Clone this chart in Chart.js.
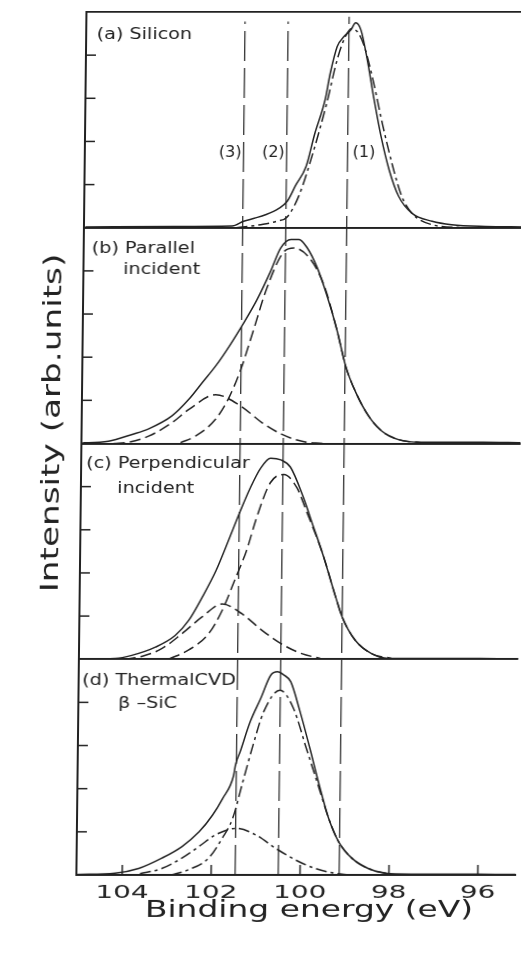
<!DOCTYPE html>
<html>
<head>
<meta charset="utf-8">
<script src="https://cdn.jsdelivr.net/npm/chart.js@4.4.1/dist/chart.umd.min.js"></script>
<style>
  html, body { margin: 0; padding: 0; background: #fff; overflow: hidden; }
  /* the scanned figure leans a little: verticals tilt, horizontals stay level */
  #wrap { position: relative; width: 521px; height: 958px; transform: skewX(-0.67deg); }
</style>
</head>
<body>
<div id="wrap"><canvas id="chartXps"></canvas></div>
<script>
const ink = '#222222';

// binding energy axis
const xTickValues = [96, 98, 100, 102, 104];
const yTickValues = [0, 1, 2, 3, 4, 5];

// reference lines (1) (2) (3), heights in stacked panel units (4 x 5)
const refLineEV = [99.12, 100.49, 101.46];
const refLineLabels = ['(1)', '(2)', '(3)'];
const refLineTop = [19.89, 19.78, 19.78];

const panelTitles = [
    ['(a) Silicon'],
    ['(b) Parallel', 'incident'],
    ['(c) Perpendicular', 'incident'],
    ['(d) ThermalCVD', 'β –SiC']
];

// (a) Silicon
const siMeasE = [105.0, 103.0, 101.7, 101.44, 101.2, 100.95, 100.65, 100.46, 100.28, 100.05, 99.87, 99.64, 99.53, 99.38, 99.23, 99.08, 98.97, 98.85, 98.7, 98.55, 98.37, 98.18, 97.96, 97.66, 97.2, 96.76, 96.0, 95.15];
const siMeasI = [0.02, 0.03, 0.04, 0.15, 0.22, 0.30, 0.45, 0.62, 0.98, 1.42, 2.15, 2.96, 3.58, 4.20, 4.43, 4.58, 4.75, 4.58, 3.89, 3.04, 2.11, 1.34, 0.73, 0.34, 0.15, 0.07, 0.03, 0.02];
const siFitE = [101.6, 101.0, 100.7, 100.46, 100.2, 99.9, 99.6, 99.38, 99.2, 99.06, 98.9, 98.77, 98.55, 98.33, 98.1, 97.89, 97.66, 97.2, 96.5];
const siFitI = [0.0, 0.08, 0.15, 0.25, 0.75, 1.73, 2.89, 3.89, 4.43, 4.62, 4.5, 4.2, 3.35, 2.35, 1.42, 0.73, 0.34, 0.07, 0.0];

// (b) Parallel incident
const parMeasE = [105.0, 104.87, 104.42, 103.89, 103.52, 103.0, 102.62, 102.32, 102.02, 101.72, 101.42, 101.12, 100.82, 100.6, 100.37, 100.19, 100.0, 99.77, 99.55, 99.32, 99.1, 98.87, 98.58, 98.28, 97.9, 97.38, 96.0, 95.15];
const parMeasI = [0.02, 0.02, 0.05, 0.21, 0.34, 0.64, 1.03, 1.42, 1.81, 2.27, 2.78, 3.33, 3.99, 4.53, 4.73, 4.73, 4.53, 4.07, 3.44, 2.66, 1.77, 1.18, 0.64, 0.29, 0.09, 0.03, 0.03, 0.02];
const parMainE = [102.8, 102.47, 102.02, 101.72, 101.46, 101.2, 100.9, 100.52, 100.3, 99.95, 99.62, 99.32, 99.1, 98.87, 98.58, 98.28, 97.9, 97.4];
const parMainI = [0.02, 0.17, 0.56, 1.07, 1.73, 2.59, 3.6, 4.45, 4.53, 4.3, 3.68, 2.66, 1.77, 1.18, 0.64, 0.29, 0.09, 0.02];
const parSideE = [104.3, 103.97, 103.52, 103.0, 102.62, 102.02, 101.46, 100.97, 100.52, 100.07, 99.6];
const parSideI = [0.0, 0.03, 0.17, 0.48, 0.79, 1.13, 0.87, 0.48, 0.21, 0.05, 0.0];

// (c) Perpendicular incident
const perMeasE = [105.0, 104.21, 103.84, 103.31, 102.87, 102.57, 102.27, 101.97, 101.67, 101.44, 101.22, 100.99, 100.77, 100.54, 100.32, 100.02, 99.8, 99.57, 99.27, 99.12, 98.82, 98.45, 98.07, 97.5, 96.0, 95.15];
const perMeasI = [0.01, 0.02, 0.09, 0.28, 0.55, 0.9, 1.44, 2.05, 2.82, 3.43, 3.97, 4.43, 4.66, 4.62, 4.45, 3.74, 3.1, 2.43, 1.44, 0.98, 0.44, 0.13, 0.02, 0.02, 0.02, 0.01];
const perMainE = [103.0, 102.57, 102.12, 101.82, 101.52, 101.29, 101.07, 100.77, 100.47, 100.17, 99.95, 99.57, 99.27, 99.12, 98.82, 98.45, 98.0];
const perMainI = [0.01, 0.21, 0.59, 1.13, 1.9, 2.51, 3.28, 4.09, 4.28, 3.97, 3.43, 2.43, 1.44, 0.98, 0.44, 0.13, 0.02];
const perSideE = [104.0, 103.6, 103.16, 102.72, 102.27, 101.82, 101.37, 100.92, 100.47, 100.02, 99.6];
const perSideI = [0.0, 0.07, 0.25, 0.59, 0.98, 1.28, 1.05, 0.67, 0.35, 0.13, 0.02];

// (d) Thermal CVD beta-SiC
const cvdMeasE = [105.0, 104.16, 103.63, 103.11, 102.66, 102.28, 101.98, 101.76, 101.52, 101.48, 101.38, 101.16, 100.93, 100.71, 100.56, 100.41, 100.26, 100.04, 99.81, 99.59, 99.37, 99.14, 98.84, 98.47, 98.09, 97.5, 96.0, 95.15];
const cvdMeasI = [0.01, 0.04, 0.15, 0.39, 0.66, 1.0, 1.39, 1.77, 2.3, 2.55, 2.85, 3.55, 4.09, 4.63, 4.71, 4.63, 4.48, 3.78, 2.93, 2.08, 1.31, 0.77, 0.39, 0.15, 0.04, 0.02, 0.02, 0.01];
const cvdMainE = [102.9, 102.51, 102.06, 101.76, 101.53, 101.31, 101.09, 100.86, 100.5, 100.19, 99.89, 99.59, 99.37, 99.14, 98.84, 98.47, 98.0];
const cvdMainI = [0.0, 0.12, 0.39, 0.85, 1.31, 2.16, 3.01, 3.78, 4.28, 3.86, 2.93, 2.0, 1.31, 0.77, 0.39, 0.15, 0.02];
const cvdSideE = [103.6, 103.11, 102.66, 102.28, 101.91, 101.45, 101.01, 100.56, 100.11, 99.66, 99.22, 98.9];
const cvdSideI = [0.03, 0.15, 0.39, 0.66, 0.93, 1.08, 0.93, 0.62, 0.35, 0.15, 0.04, 0.0];

const dashFit = [11, 5];
const dashFitDot = [11, 4, 3, 4];

function puntos(e, i) {
    return e.map((v, k) => ({ x: v, y: i[k] }));
}

function curva(eje, e, i, dash) {
    return {
        yAxisID: eje,
        data: puntos(e, i),
        borderColor: ink,
        borderWidth: 1.5,
        borderDash: dash || [],
        pointRadius: 0,
        fill: false,
        cubicInterpolationMode: 'monotone'
    };
}

function ejePanel() {
    return {
        type: 'linear',
        position: 'left',
        stack: 'panels',
        stackWeight: 1,
        min: 0,
        max: 5,
        afterBuildTicks: s => { s.ticks = yTickValues.map(v => ({ value: v })); },
        ticks: { display: false },
        grid: {
            drawTicks: false,
            lineWidth: 1.7,
            color: c => (c.tick && (c.tick.value === 0 || c.tick.value === 5)) ? ink : 'rgba(0,0,0,0)'
        },
        border: { display: true, color: ink, width: 2 }
    };
}

function textoAncho(ctx, texto, x, y, sx, align, rot) {
    ctx.save();
    ctx.translate(x, y);
    if (rot) ctx.rotate(rot);
    ctx.scale(sx, 1);
    ctx.textAlign = align;
    ctx.fillText(texto, 0, 0);
    ctx.restore();
}

const textosPlugin = {
    id: 'textos',
    afterDraw(chart) {
        const ctx = chart.ctx;
        const area = chart.chartArea;
        const xs = chart.scales.x;
        const paneles = ['ya', 'yb', 'yc', 'yd'].map(id => chart.scales[id]);

        ctx.save();
        ctx.strokeStyle = ink;
        ctx.fillStyle = ink;
        ctx.lineWidth = 1.5;

        // tick marks pointing inwards
        paneles.forEach(s => {
            s.ticks.forEach(t => {
                if (t.value === 0 || t.value === 5) return;
                const py = s.getPixelForValue(t.value);
                ctx.beginPath();
                ctx.moveTo(area.left, py);
                ctx.lineTo(area.left + 10, py);
                ctx.stroke();
            });
        });
        xs.ticks.forEach(t => {
            const px = xs.getPixelForValue(t.value);
            ctx.beginPath();
            ctx.moveTo(px, area.bottom);
            ctx.lineTo(px, area.bottom - 10);
            ctx.stroke();
        });

        ctx.textBaseline = 'alphabetic';

        // x tick labels
        ctx.font = '18px "DejaVu Sans"';
        xs.ticks.forEach(t => {
            textoAncho(ctx, String(t.value), xs.getPixelForValue(t.value), area.bottom + 23, 1.55, 'center');
        });

        // axis titles
        ctx.font = '23px "DejaVu Sans"';
        textoAncho(ctx, 'Binding energy (eV)', area.left + 233, area.bottom + 42, 1.43, 'center');
        ctx.font = '25px "DejaVu Sans"';
        textoAncho(ctx, 'Intensity (arb.units)', area.left - 22.5, (area.top + area.bottom) / 2 - 20.5, 1.37, 'center', -Math.PI / 2);

        // panel titles
        const off1 = [10.5, 8, 5, 3.5];
        const base1 = [27.3, 25, 24.5, 25.5];
        const off2 = [0, 39.7, 36.3, 39.8];
        const base2 = [0, 46.7, 49.5, 48.8];
        ctx.font = '16px "DejaVu Sans"';
        panelTitles.forEach((lineas, k) => {
            const top = paneles[k].top;
            textoAncho(ctx, lineas[0], area.left + off1[k], top + base1[k], 1.2, 'left');
            if (lineas[1]) textoAncho(ctx, lineas[1], area.left + off2[k], top + base2[k], 1.2, 'left');
        });

        // reference line labels
        ctx.font = '16px "DejaVu Sans"';
        const ya = chart.scales.ya;
        refLineEV.forEach((ev, k) => {
            const px = xs.getPixelForValue(ev);
            const py = ya.getPixelForValue(1.65);
            if (k === 0) textoAncho(ctx, refLineLabels[k], px + 5, py, 1.0, 'left');
            else textoAncho(ctx, refLineLabels[k], px - 2, py, 1.0, 'right');
        });

        ctx.restore();
    }
};

const datasets = [
    curva('ya', siMeasE, siMeasI),
    curva('ya', siFitE, siFitI, dashFitDot),
    curva('yb', parMeasE, parMeasI),
    curva('yb', parMainE, parMainI, dashFit),
    curva('yb', parSideE, parSideI, dashFit),
    curva('yc', perMeasE, perMeasI),
    curva('yc', perMainE, perMainI, dashFit),
    curva('yc', perSideE, perSideI, dashFit),
    curva('yd', cvdMeasE, cvdMeasI),
    curva('yd', cvdMainE, cvdMainI, dashFitDot),
    curva('yd', cvdSideE, cvdSideI, dashFitDot)
];

refLineEV.forEach((ev, k) => {
    datasets.push({
        yAxisID: 'yAll',
        data: [{ x: ev, y: 0 }, { x: ev, y: refLineTop[k] }],
        borderColor: ink,
        borderWidth: 1.2,
        borderDash: [30, 7],
        pointRadius: 0,
        tension: 0,
        fill: false
    });
});

new Chart(document.getElementById('chartXps'), {
    type: 'line',
    data: { datasets: datasets },
    options: {
        responsive: true,
        maintainAspectRatio: false,
        animation: false,
        layout: { padding: { left: 81, right: 0, top: 12, bottom: 83 } },
        plugins: {
            legend: { display: false },
            tooltip: { enabled: false }
        },
        scales: {
            x: {
                type: 'linear',
                reverse: true,
                min: 95.15,
                max: 105.03,
                afterBuildTicks: s => { s.ticks = xTickValues.map(v => ({ value: v })); },
                ticks: { display: false },
                grid: { display: false, drawTicks: false },
                border: { display: true, color: ink, width: 2 }
            },
            // stacked panels are laid out from the bottom up
            yd: ejePanel(),
            yc: ejePanel(),
            yb: ejePanel(),
            ya: ejePanel(),
            yAll: { type: 'linear', display: false, min: 0, max: 20 }
        }
    },
    plugins: [textosPlugin]
});
</script>
</body>
</html>
